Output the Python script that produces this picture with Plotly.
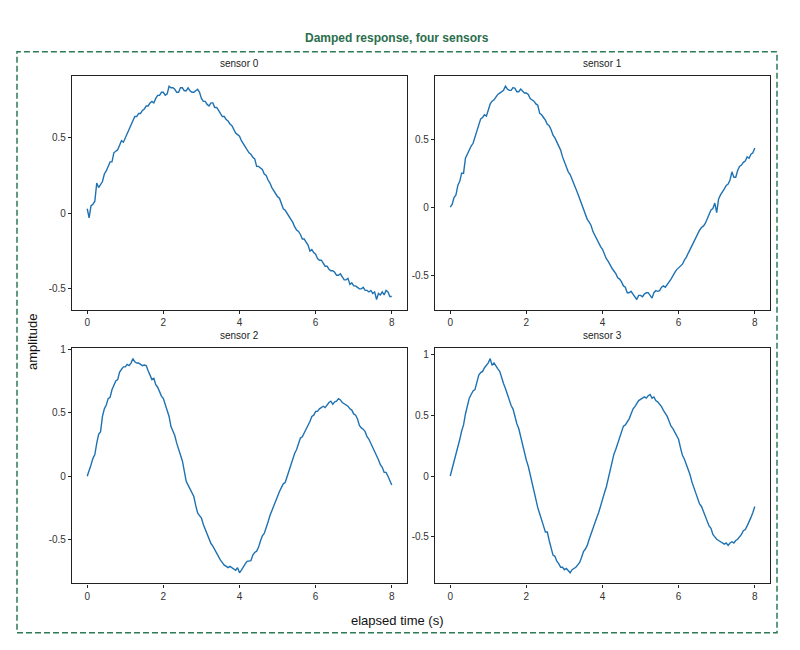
import plotly.graph_objects as go
from plotly.subplots import make_subplots

# elapsed time, one reading every 0.05 s
time_s = [round(i * 0.05, 2) for i in range(161)]

sensor_0 = [0.03, -0.03, 0.05, 0.06, 0.08, 0.20, 0.17, 0.19, 0.21, 0.26,
            0.28, 0.31, 0.34, 0.34, 0.40, 0.41, 0.42, 0.45, 0.48, 0.47,
            0.50, 0.53, 0.56, 0.59, 0.61, 0.64, 0.64, 0.66, 0.66, 0.68,
            0.69, 0.71, 0.71, 0.73, 0.74, 0.73, 0.76, 0.78, 0.78, 0.80,
            0.80, 0.78, 0.79, 0.84, 0.83, 0.83, 0.82, 0.80, 0.80, 0.83,
            0.83, 0.81, 0.81, 0.83, 0.81, 0.80, 0.80, 0.81, 0.82, 0.80,
            0.76, 0.74, 0.74, 0.72, 0.71, 0.73, 0.73, 0.70, 0.70, 0.68,
            0.66, 0.64, 0.64, 0.62, 0.61, 0.59, 0.58, 0.55, 0.53, 0.52,
            0.51, 0.48, 0.46, 0.44, 0.42, 0.40, 0.39, 0.37, 0.36, 0.31,
            0.31, 0.30, 0.29, 0.26, 0.25, 0.22, 0.20, 0.17, 0.15, 0.13,
            0.11, 0.10, 0.06, 0.03, 0.02, 0.00, -0.02, -0.04, -0.06, -0.09,
            -0.11, -0.12, -0.14, -0.17, -0.17, -0.19, -0.21, -0.25, -0.24, -0.26,
            -0.27, -0.30, -0.31, -0.31, -0.33, -0.35, -0.35, -0.37, -0.38, -0.38,
            -0.39, -0.41, -0.41, -0.40, -0.42, -0.44, -0.44, -0.43, -0.47, -0.46,
            -0.48, -0.48, -0.49, -0.50, -0.50, -0.49, -0.51, -0.51, -0.52, -0.51,
            -0.53, -0.52, -0.57, -0.53, -0.54, -0.52, -0.54, -0.51, -0.52, -0.55,
            -0.55]

sensor_1 = [0.00, 0.02, 0.07, 0.09, 0.16, 0.19, 0.25, 0.25, 0.36, 0.39,
            0.43, 0.45, 0.47, 0.52, 0.55, 0.61, 0.65, 0.66, 0.68, 0.67,
            0.71, 0.76, 0.78, 0.79, 0.81, 0.83, 0.84, 0.85, 0.86, 0.89,
            0.87, 0.86, 0.86, 0.88, 0.875, 0.85, 0.85, 0.87, 0.855, 0.84,
            0.84, 0.83, 0.80, 0.79, 0.78, 0.76, 0.75, 0.69, 0.68, 0.66,
            0.64, 0.61, 0.60, 0.57, 0.53, 0.51, 0.48, 0.45, 0.42, 0.37,
            0.33, 0.30, 0.26, 0.24, 0.20, 0.17, 0.135, 0.10, 0.06, 0.03,
            -0.01, -0.05, -0.09, -0.11, -0.135, -0.18, -0.21, -0.23, -0.26, -0.29,
            -0.31, -0.35, -0.38, -0.40, -0.43, -0.45, -0.47, -0.49, -0.52, -0.53,
            -0.55, -0.58, -0.59, -0.63, -0.63, -0.62, -0.64, -0.66, -0.68, -0.65,
            -0.65, -0.66, -0.64, -0.63, -0.63, -0.65, -0.67, -0.63, -0.615, -0.62,
            -0.615, -0.59, -0.58, -0.59, -0.565, -0.55, -0.53, -0.50, -0.48, -0.46,
            -0.445, -0.43, -0.42, -0.39, -0.37, -0.34, -0.31, -0.28, -0.26, -0.23,
            -0.20, -0.17, -0.15, -0.14, -0.12, -0.09, -0.06, -0.02, -0.01, 0.03,
            -0.04, 0.06, 0.09, 0.11, 0.135, 0.16, 0.17, 0.20, 0.26, 0.22,
            0.22, 0.27, 0.30, 0.31, 0.33, 0.34, 0.37, 0.36, 0.39, 0.40,
            0.435]

sensor_2 = [0.00, 0.04, 0.09, 0.14, 0.17, 0.26, 0.33, 0.35, 0.47, 0.53,
            0.56, 0.61, 0.62, 0.68, 0.71, 0.75, 0.76, 0.82, 0.84, 0.86,
            0.86, 0.88, 0.87, 0.89, 0.925, 0.90, 0.89, 0.89, 0.88, 0.87,
            0.875, 0.87, 0.83, 0.80, 0.76, 0.77, 0.72, 0.70, 0.66, 0.63,
            0.61, 0.56, 0.51, 0.47, 0.39, 0.35, 0.32, 0.26, 0.21, 0.17,
            0.12, 0.04, -0.04, -0.07, -0.10, -0.12, -0.16, -0.23, -0.29, -0.31,
            -0.33, -0.38, -0.42, -0.45, -0.49, -0.53, -0.55, -0.58, -0.61, -0.64,
            -0.66, -0.68, -0.70, -0.71, -0.72, -0.71, -0.72, -0.73, -0.74, -0.72,
            -0.76, -0.74, -0.71, -0.69, -0.67, -0.67, -0.665, -0.62, -0.60, -0.59,
            -0.56, -0.51, -0.47, -0.45, -0.41, -0.36, -0.31, -0.27, -0.23, -0.19,
            -0.15, -0.12, -0.09, -0.06, -0.05, 0.00, 0.05, 0.09, 0.13, 0.18,
            0.21, 0.26, 0.30, 0.31, 0.34, 0.37, 0.39, 0.43, 0.47, 0.48,
            0.51, 0.51, 0.53, 0.54, 0.55, 0.54, 0.56, 0.58, 0.59, 0.565,
            0.585, 0.59, 0.61, 0.60, 0.58, 0.57, 0.555, 0.55, 0.53, 0.52,
            0.49, 0.48, 0.45, 0.40, 0.38, 0.37, 0.35, 0.31, 0.29, 0.26,
            0.22, 0.20, 0.17, 0.13, 0.09, 0.07, 0.03, 0.03, 0.00, -0.03,
            -0.07]

sensor_3 = [0.00, 0.06, 0.12, 0.16, 0.23, 0.30, 0.37, 0.42, 0.51, 0.58,
            0.64, 0.67, 0.70, 0.71, 0.76, 0.83, 0.85, 0.86, 0.89, 0.91,
            0.93, 0.965, 0.91, 0.93, 0.90, 0.88, 0.86, 0.80, 0.76, 0.72,
            0.67, 0.63, 0.58, 0.55, 0.48, 0.43, 0.39, 0.32, 0.26, 0.20,
            0.13, 0.08, 0.01, -0.07, -0.14, -0.19, -0.26, -0.31, -0.37, -0.41,
            -0.46, -0.46, -0.53, -0.58, -0.65, -0.66, -0.70, -0.72, -0.75, -0.75,
            -0.77, -0.76, -0.78, -0.795, -0.77, -0.76, -0.75, -0.73, -0.71, -0.67,
            -0.62, -0.60, -0.57, -0.52, -0.47, -0.43, -0.38, -0.34, -0.30, -0.24,
            -0.18, -0.14, -0.09, -0.02, 0.05, 0.11, 0.18, 0.22, 0.27, 0.33,
            0.38, 0.41, 0.42, 0.44, 0.47, 0.51, 0.55, 0.57, 0.60, 0.62,
            0.63, 0.64, 0.65, 0.64, 0.66, 0.67, 0.64, 0.65, 0.62, 0.61,
            0.59, 0.57, 0.54, 0.52, 0.49, 0.45, 0.41, 0.39, 0.36, 0.33,
            0.30, 0.23, 0.17, 0.14, 0.10, 0.05, 0.01, -0.05, -0.10, -0.13,
            -0.19, -0.23, -0.25, -0.29, -0.33, -0.36, -0.41, -0.43, -0.48, -0.50,
            -0.52, -0.53, -0.54, -0.55, -0.56, -0.55, -0.57, -0.55, -0.54, -0.55,
            -0.53, -0.52, -0.50, -0.48, -0.45, -0.44, -0.41, -0.38, -0.34, -0.30,
            -0.25]

sensors = [sensor_0, sensor_1, sensor_2, sensor_3]
panel_titles = ["sensor 0", "sensor 1", "sensor 2", "sensor 3"]
x_ticks = [0, 2, 4, 6, 8]
y_ticks = [-0.5, 0, 0.5, 1]
y_tick_text = ["-0.5", "0", "0.5", "1"]

W, H = 800, 650
OFF = 8  # page body margin, positions below are measured on screen


def fx(px):
    return (px - OFF) / W


def fy(py):
    return 1 - (py - OFF) / H


# panel boxes in screen pixels: (left, right, top, bottom)
boxes = [(72, 407, 72, 308), (435, 770, 72, 308),
         (72, 407, 346, 583), (435, 770, 346, 583)]

FONT = "Liberation Sans, Arial, sans-serif"
fig = make_subplots(rows=2, cols=2)
tick_font = dict(family=FONT, size=10, color="#333")

for i, vals in enumerate(sensors):
    row, col = i // 2 + 1, i % 2 + 1
    fig.add_trace(go.Scatter(x=time_s, y=vals, mode="lines",
                             line=dict(color="#1f72b2", width=1.4),
                             showlegend=False), row=row, col=col)
    lo, hi = min(vals), max(vals)
    pad = (hi - lo) * 0.05
    l, r, t, b = boxes[i]
    axis_style = dict(showline=True, mirror=True, linecolor="#222", linewidth=1.2,
                      showgrid=False, zeroline=False, ticks="outside", ticklen=3,
                      tickcolor="#222", tickfont=tick_font)
    fig.update_xaxes(range=[-0.4, 8.4], tickvals=x_ticks, domain=[fx(l), fx(r)],
                     row=row, col=col, **axis_style)
    fig.update_yaxes(range=[lo - pad, hi + pad], tickvals=y_ticks, ticktext=y_tick_text,
                     domain=[fy(b), fy(t)], row=row, col=col, **axis_style)
    fig.add_annotation(text=panel_titles[i], x=fx((l + r) / 2), y=fy(t - 12),
                       xref="paper", yref="paper", showarrow=False,
                       xanchor="center", yanchor="middle",
                       font=dict(family=FONT, size=10, color="#222"))

fig.add_annotation(text="<b>Damped response, four sensors</b>", x=fx(397), y=fy(34),
                   xref="paper", yref="paper", showarrow=False,
                   xanchor="center", yanchor="middle",
                   font=dict(family=FONT, size=12, color="#2a6e4c"))
fig.add_annotation(text="amplitude", x=fx(33), y=fy(340), textangle=-90,
                   xref="paper", yref="paper", showarrow=False,
                   xanchor="center", yanchor="middle",
                   font=dict(family=FONT, size=13, color="#111"))
fig.add_annotation(text="elapsed time (s)", x=fx(397), y=fy(620),
                   xref="paper", yref="paper", showarrow=False,
                   xanchor="center", yanchor="middle",
                   font=dict(family=FONT, size=13, color="#111"))

# dashed frame around the whole figure
fig.add_shape(type="rect", xref="paper", yref="paper",
              x0=fx(17), x1=fx(777), y0=fy(632.5), y1=fy(48),
              line=dict(color="#2e7a56", width=1.5, dash="6px,3px"))

fig.update_layout(width=W, height=H, margin=dict(l=0, r=0, t=0, b=0),
                  paper_bgcolor="white", plot_bgcolor="white")

fig.write_html("out.html")
